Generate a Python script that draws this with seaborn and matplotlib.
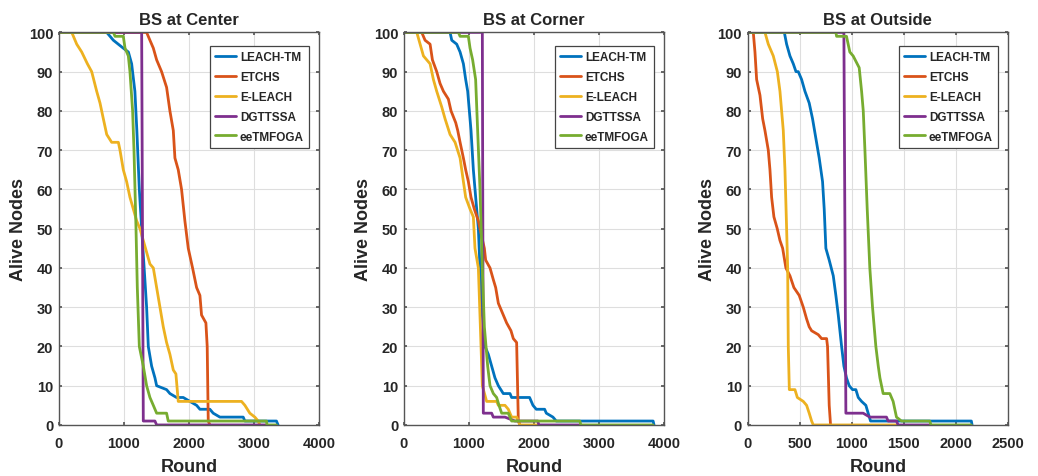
import matplotlib
matplotlib.use("Agg")
import matplotlib.pyplot as plt
import seaborn as sns
import pandas as pd

SERIES = ["LEACH-TM", "ETCHS", "E-LEACH", "DGTTSSA", "eeTMFOGA"]
COLORS = ["#0072BD", "#D95319", "#EDB120", "#7E2F8E", "#77AC30"]
TITLES = ["BS at Center", "BS at Corner", "BS at Outside"]

# ---- BS at Center ----
C_LEACH_X = [0, 737, 839, 990, 1070, 1120, 1170, 1200, 1238, 1274, 1350, 1376, 1427, 1478, 1504, 1657, 1708, 1810, 1913, 2118, 2169, 2322, 2373, 2476, 2834, 2860, 3345, 3370]
C_LEACH_Y = [100, 100, 98, 96, 95, 92, 85, 75, 60, 50, 30, 20, 15, 12, 10, 9, 8, 7, 7, 5, 4, 4, 3, 2, 2, 1, 1, 0]
C_ETCHS_X = [0, 1350, 1401, 1453, 1504, 1580, 1657, 1708, 1760, 1785, 1836, 1887, 1938, 1990, 2056, 2118, 2169, 2194, 2261, 2281, 2297, 2322]
C_ETCHS_Y = [100, 100, 98, 96, 93, 90, 86, 80, 75, 68, 65, 60, 52, 45, 40, 35, 33, 28, 26, 20, 1, 0]
C_ELEACH_X = [0, 200, 276, 353, 440, 506, 583, 634, 685, 737, 813, 916, 941, 992, 1043, 1094, 1146, 1197, 1248, 1299, 1350, 1401, 1453, 1504, 1555, 1606, 1657, 1708, 1760, 1800, 1836, 2808, 2860, 2936, 3013, 3064, 3090]
C_ELEACH_Y = [100, 100, 97, 95, 92, 90, 85, 82, 78, 74, 72, 72, 70, 65, 62, 58, 55, 52, 50, 47, 44, 41, 40, 35, 30, 25, 21, 18, 14, 13, 6, 6, 5, 3, 2, 1, 0]
C_DGT_X = [0, 1274, 1299, 1478, 1504, 3192]
C_DGT_Y = [100, 100, 1, 1, 0, 0]
C_EE_X = [0, 839, 865, 992, 1018, 1069, 1094, 1135, 1156, 1187, 1207, 1238, 1299, 1350, 1401, 1453, 1504, 1657, 1682, 3192, 3200, 3345]
C_EE_Y = [100, 100, 99, 99, 96, 94, 90, 80, 70, 50, 35, 20, 15, 10, 7, 5, 3, 3, 1, 1, 0, 0]

# ---- BS at Corner ----
K_LEACH_X = [0, 711, 737, 813, 865, 916, 951, 982, 1033, 1069, 1120, 1146, 1171, 1197, 1248, 1299, 1350, 1401, 1453, 1529, 1632, 1657, 1933, 1985, 2036, 2164, 2190, 2292, 2343, 3831, 3845]
K_LEACH_Y = [100, 100, 98, 97, 95, 92, 88, 85, 75, 65, 55, 50, 40, 30, 20, 18, 15, 12, 10, 8, 8, 7, 7, 5, 4, 4, 3, 2, 1, 1, 0]
K_ETCHS_X = [0, 276, 327, 404, 440, 506, 557, 609, 685, 726, 798, 829, 865, 916, 951, 992, 1033, 1084, 1146, 1197, 1238, 1258, 1325, 1376, 1412, 1453, 1504, 1580, 1647, 1683, 1734, 1760, 1785]
K_ETCHS_Y = [100, 100, 98, 97, 93, 90, 87, 85, 83, 80, 77, 75, 72, 68, 65, 62, 58, 55, 52, 48, 45, 42, 40, 37, 35, 31, 29, 26, 24, 22, 21, 1, 0]
K_ELEACH_X = [0, 200, 251, 302, 404, 455, 506, 583, 634, 711, 788, 865, 916, 951, 1018, 1069, 1094, 1146, 1187, 1207, 1273, 1427, 1453, 1555, 1606, 1657, 1734, 1760, 1785, 2066]
K_ELEACH_Y = [100, 100, 97, 94, 92, 88, 85, 81, 78, 74, 72, 68, 62, 58, 55, 53, 45, 40, 20, 10, 6, 6, 5, 5, 4, 2, 2, 1, 0, 0]
K_DGT_X = [0, 1207, 1222, 1350, 1376, 1555, 1708, 2060, 2075, 2706]
K_DGT_Y = [100, 100, 3, 3, 2, 2, 1, 1, 0, 0]
K_EE_X = [0, 839, 865, 992, 1018, 1058, 1104, 1135, 1171, 1207, 1238, 1289, 1325, 1376, 1427, 1463, 1504, 1606, 1657, 2706, 2720, 3831]
K_EE_Y = [100, 100, 99, 99, 96, 93, 88, 75, 60, 40, 25, 15, 10, 8, 7, 5, 3, 3, 1, 1, 0, 0]

# ---- BS at Outside ----
O_LEACH_X = [0, 352, 374, 406, 438, 464, 486, 518, 550, 591, 623, 655, 687, 719, 735, 751, 783, 822, 847, 870, 902, 924, 949, 975, 1007, 1039, 1062, 1094, 1135, 1157, 1180, 2148, 2155]
O_LEACH_Y = [100, 100, 97, 94, 92, 90, 90, 88, 85, 82, 78, 73, 68, 62, 55, 45, 42, 38, 33, 28, 20, 15, 12, 10, 9, 9, 7, 6, 5, 3, 1, 1, 0]
O_ETCHS_X = [0, 54, 70, 86, 118, 144, 166, 198, 214, 230, 252, 284, 310, 336, 367, 406, 444, 495, 534, 566, 591, 614, 678, 710, 758, 767, 783, 796]
O_ETCHS_Y = [100, 100, 95, 88, 84, 78, 75, 70, 65, 58, 53, 50, 47, 45, 40, 38, 35, 33, 30, 27, 25, 24, 23, 22, 22, 20, 5, 0]
O_ELEACH_X = [0, 166, 198, 246, 285, 310, 342, 358, 374, 384, 390, 400, 454, 477, 534, 566, 591, 614, 630, 1429]
O_ELEACH_Y = [100, 100, 97, 94, 90, 85, 75, 65, 50, 40, 20, 9, 9, 7, 6, 5, 3, 1, 0, 0]
O_DGT_X = [0, 924, 943, 1109, 1173, 1333, 1349, 1429, 1445, 1749]
O_DGT_Y = [100, 100, 3, 3, 2, 2, 1, 1, 0, 0]
O_EE_X = [0, 847, 854, 949, 981, 1013, 1071, 1094, 1110, 1126, 1148, 1173, 1199, 1231, 1254, 1270, 1301, 1365, 1397, 1429, 1477, 1749, 1760, 2148]
O_EE_Y = [100, 100, 99, 99, 95, 94, 91, 85, 80, 70, 55, 40, 30, 20, 15, 12, 8, 8, 6, 2, 1, 1, 0, 0]

PANELS = [
    [(C_LEACH_X, C_LEACH_Y), (C_ETCHS_X, C_ETCHS_Y), (C_ELEACH_X, C_ELEACH_Y), (C_DGT_X, C_DGT_Y), (C_EE_X, C_EE_Y)],
    [(K_LEACH_X, K_LEACH_Y), (K_ETCHS_X, K_ETCHS_Y), (K_ELEACH_X, K_ELEACH_Y), (K_DGT_X, K_DGT_Y), (K_EE_X, K_EE_Y)],
    [(O_LEACH_X, O_LEACH_Y), (O_ETCHS_X, O_ETCHS_Y), (O_ELEACH_X, O_ELEACH_Y), (O_DGT_X, O_DGT_Y), (O_EE_X, O_EE_Y)],
]
XMAX = [4000, 4000, 2500]
XSTEP = [1000, 1000, 500]

sns.set_theme(style="whitegrid")
plt.rcParams['font.family'] = ['Liberation Sans', 'DejaVu Sans']
plt.rcParams['font.weight'] = 'bold'

fig = plt.figure(figsize=(10.38, 4.77), dpi=100)
lefts = [0.0566, 0.389, 0.7203]
for i in range(3):
    ax = fig.add_axes([lefts[i], 0.107, 0.2508, 0.823])
    rows = []
    for name, (xs, ys) in zip(SERIES, PANELS[i]):
        for x, y in zip(xs, ys):
            rows.append({"Round": x, "Alive": y, "Method": name})
    df = pd.DataFrame(rows)
    for name, col in zip(SERIES, COLORS):
        sub = df[df["Method"] == name]
        sns.lineplot(data=sub, x="Round", y="Alive", ax=ax, color=col, linewidth=2.0,
                     sort=False, estimator=None, label=name)
    ax.set_xlim(0, XMAX[i])
    ax.set_ylim(0, 100)
    ax.set_xticks(list(range(0, XMAX[i] + 1, XSTEP[i])))
    ax.set_yticks(list(range(0, 101, 10)))
    ax.set_facecolor("white")
    ax.grid(True, color="#dedede", linewidth=0.8)
    for s in ax.spines.values():
        s.set_color("#555555")
        s.set_linewidth(1.0)
        s.set_visible(True)
    ax.tick_params(axis="both", labelsize=10.5, colors="#555555", labelcolor="#262626",
                   direction="in", length=2.5, top=True, right=True, bottom=True, left=True)
    ax.tick_params(axis="x", pad=8)
    ax.tick_params(axis="y", pad=4)
    for lab in ax.get_xticklabels() + ax.get_yticklabels():
        lab.set_fontweight("bold")
    ax.set_title(TITLES[i], fontsize=12, fontweight="bold", pad=6, color="#262626")
    ax.set_xlabel("Round", fontsize=13, fontweight="bold", labelpad=6, color="#262626")
    ax.set_ylabel("Alive Nodes", fontsize=13, fontweight="bold", labelpad=1, color="#262626")
    leg = ax.legend(loc="upper right", bbox_to_anchor=(0.962, 0.965), fontsize=8.5, frameon=True,
                    fancybox=False, edgecolor="#444444", framealpha=1, handlelength=1.8,
                    borderpad=0.45, labelspacing=0.66, handletextpad=0.3, borderaxespad=0)
    leg.get_frame().set_linewidth(0.9)
    for t in leg.get_texts():
        t.set_fontweight("bold")
        t.set_color("#262626")

fig.savefig("out.png", dpi=100, facecolor="white")
